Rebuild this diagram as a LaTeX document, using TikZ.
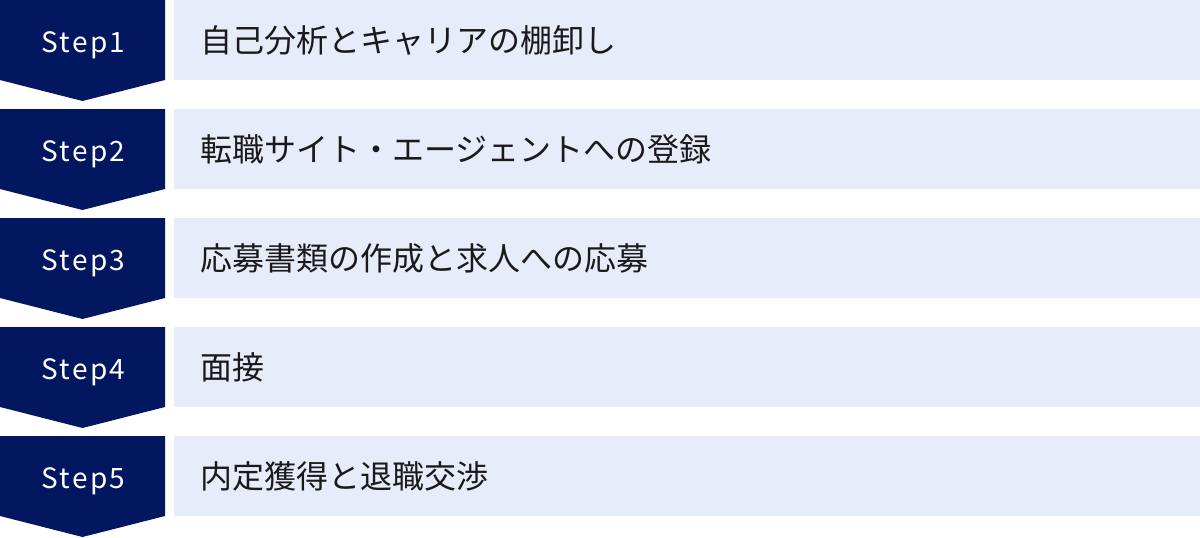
\documentclass[tikz,border=0pt]{standalone}
\usepackage{fontspec}
\setmainfont{Noto Sans CJK JP}
\newfontfamily\stepfont[LetterSpace=8]{Noto Sans CJK JP}
\definecolor{navy}{HTML}{031660}
\definecolor{lightbg}{HTML}{E6ECF9}
\definecolor{txt}{HTML}{1A1A1A}
\tikzset{
  steparrow/.style={fill=navy, draw=none},
  stepbar/.style={fill=lightbg, draw=none},
  steplabel/.style={text=white, font=\stepfont\fontsize{28}{30}\selectfont, inner sep=0pt, anchor=base},
  bartext/.style={text=txt, font=\fontsize{32}{34}\selectfont, inner sep=0pt, anchor=west},
}
\begin{document}
\begin{tikzpicture}[x=1pt,y=-1pt]
\useasboundingbox (0,0) rectangle (1200,538);
\foreach \i/\t in {1/自己分析とキャリアの棚卸し,2/転職サイト・エージェントへの登録,3/応募書類の作成と求人への応募,4/面接,5/内定獲得と退職交渉}{
  \pgfmathsetmacro{\top}{(\i-1)*109}
  \fill[steparrow] (0,\top) -- (165,\top) -- (165,\top+80) -- (82.5,\top+101) -- (0,\top+80) -- cycle;
  \fill[stepbar] (174,\top) rectangle (1200,\top+80);
  \node[steplabel] (s\i) at (83.5,\top+52) {Step\i};
  \node[bartext] (t\i) at (200,\top+40) {\t};
}
\end{tikzpicture}
\end{document}
